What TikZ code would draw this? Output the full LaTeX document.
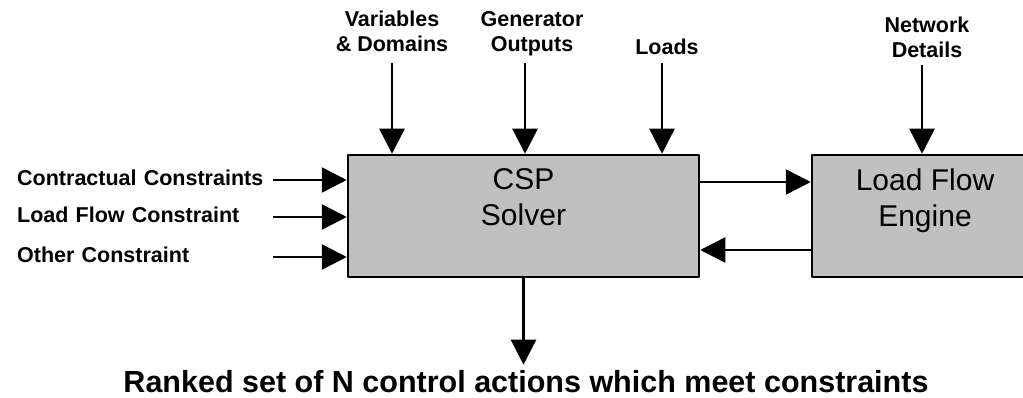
\documentclass[tikz,border=0pt]{standalone}
\usepackage{fontspec}
\setmainfont{Liberation Sans}
\usetikzlibrary{arrows.meta,positioning}
\definecolor{boxgray}{RGB}{192,192,192}

\begin{document}
\begin{tikzpicture}[x=1pt, y=-1pt, line join=round,
	arr/.style={line width=2.5pt, -{Triangle[length=25pt,width=25pt]}},
	lbl/.style={font=\fontsize{21.5}{25}\selectfont\bfseries, inner sep=0pt, align=center, text depth=0pt},
	inlbl/.style={lbl, text width=256pt, align=left, anchor=base west},
	blk/.style={draw, line width=2.5pt, fill=boxgray, minimum height=122pt, inner sep=0pt},
	blktxt/.style={font=\fontsize{30}{36}\selectfont, inner sep=0pt, align=center, anchor=north}]
	\clip (0,0) rectangle (1023,398);
	% blocks
	\node[blk, minimum width=351pt] (csp) at (523.5,216) {};
	\node[blk, minimum width=230pt] (lfe) at (927,216) {};
	\node[blktxt] (csptxt) at ([yshift=-15pt]csp.north) {CSP\\Solver};
	\node[blktxt] (lfetxt) at ([xshift=-2pt,yshift=-15pt]lfe.north) {Load Flow\\Engine};
	% inputs from above
	\node[lbl, anchor=south] (vars) at (392,52) {Variables\\\& Domains};
	\node[lbl, anchor=south] (gen) at (532,52) {Generator\\Outputs};
	\node[lbl, anchor=south] (loads) at (667,55) {Loads};
	\node[lbl, anchor=south] (net) at (927,58) {Network\\Details};
	\draw[arr] ([yshift=-11pt]vars.south) -- (vars.south |- csp.north);
	\draw[arr] ([xshift=-7pt,yshift=-11pt]gen.south) -- ([xshift=-7pt]gen.south |- csp.north);
	\draw[arr] ([xshift=-5pt,yshift=-8pt]loads.south) -- ([xshift=-5pt]loads.south |- csp.north);
	\draw[arr] ([xshift=-5pt,yshift=-7pt]net.south) -- ([xshift=-5pt]net.south |- lfe.north);
	% constraints from the left
	\node[inlbl] (cc) at (17,186) {Contractual Constraints};
	\node[inlbl] (lfc) at (17,223) {Load Flow Constraint};
	\node[inlbl] (oc) at (17,262) {Other Constraint};
	\draw[arr] ([yshift=6pt]cc.base east) -- ([yshift=6pt]cc.base east -| csp.west);
	\draw[arr] ([yshift=6pt]lfc.base east) -- ([yshift=6pt]lfc.base east -| csp.west);
	\draw[arr] ([yshift=5pt]oc.base east) -- ([yshift=5pt]oc.base east -| csp.west);
	% solver <-> load flow
	\draw[arr] ([yshift=34pt]csp.east) -- ([yshift=34pt]csp.east -| lfe.west);
	\draw[arr] ([yshift=-34pt]lfe.west) -- ([yshift=-34pt]lfe.west -| csp.east);
	% result
	\node[font=\fontsize{30.5}{36}\selectfont\bfseries, inner sep=0pt, anchor=base] (res) at (526,392) {Ranked set of N control actions which meet constraints};
	\draw[arr] (csp.south) -- ([yshift=5pt]res.north -| csp.south);
\end{tikzpicture}
\end{document}
